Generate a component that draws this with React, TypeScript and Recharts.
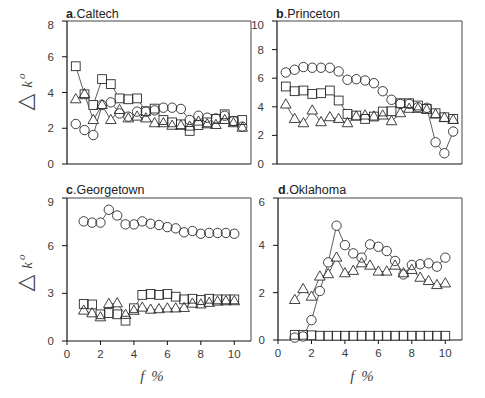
import React from "react";
import { ScatterChart, Scatter, XAxis, YAxis } from "recharts";

// f % positions
const fTop = [0.5, 1, 1.5, 2, 2.5, 3, 3.5, 4, 4.5, 5, 5.5, 6, 6.5, 7, 7.5, 8, 8.5, 9, 9.5, 10];
const fBottom = [1, 1.5, 2, 2.5, 3, 3.5, 4, 4.5, 5, 5.5, 6, 6.5, 7, 7.5, 8, 8.5, 9, 9.5, 10];

// a. Caltech
const caltechCircle = [2.24, 1.9, 1.62, 3.3, 3.45, 2.83, 2.65, 2.93, 2.93, 3.0, 3.15, 3.15, 3.08, 2.46, 2.7, 2.59, 2.55, 2.7, 2.4, 2.09];
const caltechSquare = [5.47, 3.9, 3.3, 4.75, 4.47, 3.67, 3.62, 3.67, 2.95, 3.1, 2.46, 2.33, 2.22, 1.85, 2.18, 2.33, 2.52, 2.78, 2.4, 2.46];
const caltechTriangle = [3.62, 3.91, 2.46, 3.3, 2.46, 3.02, 2.55, 2.65, 2.55, 2.28, 2.28, 2.14, 2.14, 2.09, 2.37, 2.22, 2.18, 2.46, 2.28, 2.03];

// b. Princeton
const princetonCircle = [6.4, 6.59, 6.78, 6.73, 6.73, 6.73, 6.47, 5.89, 5.93, 5.84, 5.65, 5.09, 4.49, 4.2, 4.2, 3.97, 3.93, 1.52, 0.75, 2.27];
const princetonSquare = [5.42, 5.09, 5.14, 4.9, 4.95, 5.14, 4.44, 3.5, 3.39, 3.15, 3.32, 3.67, 3.69, 4.25, 4.25, 4.09, 3.86, 3.55, 3.27, 3.15];
const princetonTriangle = [4.16, 3.15, 2.85, 3.74, 2.92, 3.27, 3.15, 2.85, 3.32, 3.39, 3.32, 3.39, 2.99, 3.55, 3.86, 3.86, 3.79, 3.46, 3.22, 3.08];

// c. Georgetown
const georgetownCircle = [7.53, 7.45, 7.45, 8.26, 7.9, 7.34, 7.34, 7.53, 7.38, 7.3, 7.17, 7.09, 6.84, 6.92, 6.75, 6.8, 6.8, 6.8, 6.75];
const georgetownSquare = [2.33, 2.3, 1.68, 1.76, 1.68, 1.28, 2.06, 2.9, 2.96, 2.9, 2.96, 2.79, 2.62, 2.66, 2.58, 2.66, 2.62, 2.62, 2.62];
const georgetownTriangle = [1.91, 1.74, 1.49, 2.33, 2.37, 1.64, 1.9, 2.1, 1.97, 2.0, 2.05, 2.05, 2.08, 2.35, 2.3, 2.4, 2.48, 2.5, 2.5];

// d. Oklahoma
const oklahomaCircle = [0.1, 0.15, 0.84, 2.07, 3.28, 4.83, 4.01, 3.66, 3.48, 4.04, 3.94, 3.76, 3.34, 2.77, 3.17, 3.2, 3.24, 3.1, 3.48];
const oklahomaSquare = [0.22, 0.22, 0.2, 0.18, 0.18, 0.18, 0.18, 0.18, 0.18, 0.18, 0.18, 0.18, 0.18, 0.18, 0.18, 0.18, 0.18, 0.18, 0.18];
const oklahomaTriangle = [1.69, 2.15, 1.83, 2.68, 2.78, 3.48, 2.82, 2.92, 3.24, 3.14, 2.89, 2.89, 3.14, 2.82, 2.96, 2.63, 2.49, 2.32, 2.39];

const tickFont = { fontSize: 11.5, fill: "#3a3a3a", fontFamily: "'Liberation Sans', Arial, sans-serif" };
const INK = "#2b2b2b";

type Kind = "circle" | "square" | "triangle";

function Marker(props: any) {
  const { cx, cy, kind, mode } = props;
  if (cx == null || cy == null) return <g />;
  const fill = mode === "fill" ? "#ffffff" : "none";
  const stroke = mode === "stroke" ? INK : "none";
  if (kind === "circle") {
    return <circle cx={cx} cy={cy} r={4.7} fill={fill} stroke={stroke} strokeWidth={0.9} />;
  }
  if (kind === "square") {
    return <rect x={cx - 4.4} y={cy - 4.4} width={8.8} height={8.8} fill={fill} stroke={stroke} strokeWidth={0.9} />;
  }
  const w = 10.6;
  const h = 9.2;
  const pts = `${cx},${cy - h * 0.62} ${cx - w / 2},${cy + h * 0.38} ${cx + w / 2},${cy + h * 0.38}`;
  return <polygon points={pts} fill={fill} stroke={stroke} strokeWidth={0.9} strokeLinejoin="miter" />;
}

function toPoints(xs: number[], ys: number[]) {
  return ys.map((y, i) => ({ x: xs[i], y }));
}

type PanelProps = {
  plotLeft: number;
  plotTop: number;
  plotW: number;
  plotH: number;
  xs: number[];
  xMax: number;
  xTicks: number[];
  showXLabels: boolean;
  yMax: number;
  yTicks: number[];
  circle: number[];
  square: number[];
  triangle: number[];
};

function Panel(p: PanelProps) {
  const yw = 40;
  const xh = 30;
  const pad = 2;
  const series: { kind: Kind; data: { x: number; y: number }[] }[] = [
    { kind: "circle", data: toPoints(p.xs, p.circle) },
    { kind: "square", data: toPoints(p.xs, p.square) },
    { kind: "triangle", data: toPoints(p.xs, p.triangle) },
  ];
  return (
    <div style={{ position: "absolute", left: p.plotLeft - yw, top: p.plotTop - pad }}>
      <ScatterChart
        width={yw + p.plotW + pad}
        height={pad + p.plotH + xh}
        margin={{ top: pad, right: pad, bottom: 0, left: 0 }}
      >
        <XAxis
          xAxisId="bottom"
          type="number"
          dataKey="x"
          domain={[0, p.xMax]}
          ticks={p.xTicks}
          height={xh}
          axisLine={{ stroke: "#111", strokeWidth: 1.2 }}
          tickLine={{ stroke: "#111" }}
          tickSize={4}
          tickMargin={5}
          tick={p.showXLabels ? tickFont : false}
        />
        <XAxis
          xAxisId="top"
          orientation="top"
          type="number"
          domain={[0, p.xMax]}
          ticks={p.xTicks}
          mirror
          axisLine={{ stroke: "#444", strokeWidth: 1 }}
          tickLine={{ stroke: "#444" }}
          tickSize={4}
          tick={false}
        />
        <YAxis
          yAxisId="left"
          type="number"
          dataKey="y"
          domain={[0, p.yMax]}
          ticks={p.yTicks}
          width={yw}
          axisLine={{ stroke: "#111", strokeWidth: 1.2 }}
          tickLine={{ stroke: "#111" }}
          tickSize={5}
          tickMargin={8}
          tick={tickFont}
        />
        <YAxis
          yAxisId="right"
          orientation="right"
          type="number"
          domain={[0, p.yMax]}
          ticks={p.yTicks}
          mirror
          axisLine={{ stroke: "#444", strokeWidth: 1 }}
          tickLine={{ stroke: "#444" }}
          tickSize={4}
          tick={false}
        />
        {series.map((s) => (
          <Scatter
            key={`line-${s.kind}`}
            xAxisId="bottom"
            yAxisId="left"
            data={s.data}
            line={{ stroke: "#333", strokeWidth: 0.8 }}
            shape={() => <g />}
            isAnimationActive={false}
          />
        ))}
        {series.map((s) => (
          <Scatter
            key={`fill-${s.kind}`}
            xAxisId="bottom"
            yAxisId="left"
            data={s.data}
            shape={(sp: any) => <Marker {...sp} kind={s.kind} mode="fill" />}
            isAnimationActive={false}
          />
        ))}
        {series.map((s) => (
          <Scatter
            key={`stroke-${s.kind}`}
            xAxisId="bottom"
            yAxisId="left"
            data={s.data}
            shape={(sp: any) => <Marker {...sp} kind={s.kind} mode="stroke" />}
            isAnimationActive={false}
          />
        ))}
      </ScatterChart>
    </div>
  );
}

const titleFont = "'Liberation Sans', Arial, sans-serif";

function Title({ x, y, letter, name }: { x: number; y: number; letter: string; name: string }) {
  return (
    <text x={x} y={y} fontFamily={titleFont} fontSize={12.5} fill="#222">
      <tspan fontWeight="bold">{letter}</tspan>
      <tspan>.{name}</tspan>
    </text>
  );
}

function YLabel({ x, y }: { x: number; y: number }) {
  return (
    <text transform={`translate(${x},${y}) rotate(-90)`} textAnchor="middle" fill="#444">
      <tspan fontFamily="'DejaVu Sans', sans-serif" fontSize={22}>△</tspan>
      <tspan fontFamily="'Liberation Serif', serif" fontStyle="italic" fontSize={15} dx={6}>k</tspan>
      <tspan fontFamily="'Liberation Serif', serif" fontStyle="italic" fontSize={11} dx={2} dy={-7}>o</tspan>
    </text>
  );
}

function XLabel({ x, y }: { x: number; y: number }) {
  return (
    <text x={x} y={y} textAnchor="middle" fill="#444" fontFamily="'Liberation Serif', serif" fontStyle="italic" fontSize={15}>
      <tspan>f</tspan>
      <tspan dx={7}>%</tspan>
    </text>
  );
}

export default function App() {
  return (
    <div style={{ position: "relative", width: 485, height: 398, background: "#fff", overflow: "hidden" }}>
      <style>{`body { margin: 0; }`}</style>
      <Panel
        plotLeft={67} plotTop={21} plotW={184} plotH={143}
        xs={fTop} xMax={10.5} xTicks={[0, 5, 10]} showXLabels={false}
        yMax={8} yTicks={[0, 2, 4, 6, 8]}
        circle={caltechCircle} square={caltechSquare} triangle={caltechTriangle}
      />
      <Panel
        plotLeft={277} plotTop={21} plotW={185} plotH={143}
        xs={fTop} xMax={10.5} xTicks={[0, 2.5, 5, 7.5, 10]} showXLabels={false}
        yMax={10} yTicks={[0, 2, 4, 6, 8, 10]}
        circle={princetonCircle} square={princetonSquare} triangle={princetonTriangle}
      />
      <Panel
        plotLeft={67} plotTop={198} plotW={184} plotH={143}
        xs={fBottom} xMax={11} xTicks={[0, 2, 4, 6, 8, 10]} showXLabels={true}
        yMax={9} yTicks={[0, 3, 6, 9]}
        circle={georgetownCircle} square={georgetownSquare} triangle={georgetownTriangle}
      />
      <Panel
        plotLeft={278} plotTop={198} plotW={184} plotH={142}
        xs={fBottom} xMax={11} xTicks={[0, 2, 4, 6, 8, 10]} showXLabels={true}
        yMax={6} yTicks={[0, 2, 4, 6]}
        circle={oklahomaCircle} square={oklahomaSquare} triangle={oklahomaTriangle}
      />
      <svg width={485} height={398} style={{ position: "absolute", left: 0, top: 0, pointerEvents: "none" }}>
        <Title x={66} y={17.5} letter="a" name="Caltech" />
        <Title x={276} y={17.5} letter="b" name="Princeton" />
        <Title x={66} y={194} letter="c" name="Georgetown" />
        <Title x={278} y={194} letter="d" name="Oklahoma" />
        <YLabel x={32} y={92} />
        <YLabel x={32} y={273} />
        <XLabel x={152} y={381} />
        <XLabel x={362} y={381} />
      </svg>
    </div>
  );
}
